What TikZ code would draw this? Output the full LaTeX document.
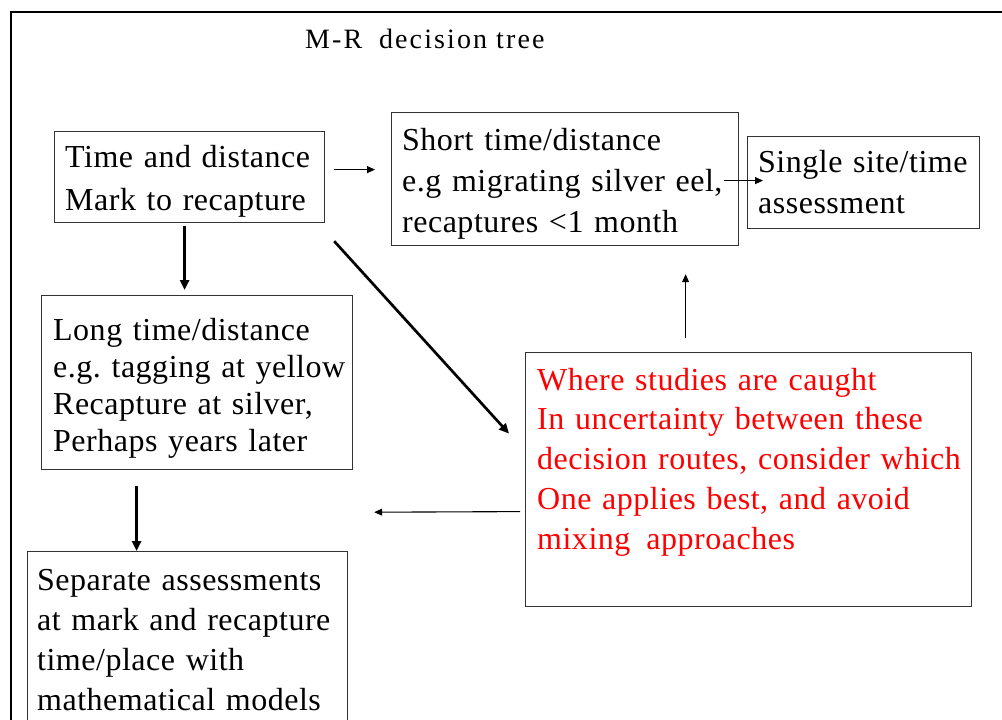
\documentclass[tikz,border=0pt]{standalone}
\usepackage{fontspec}
\setmainfont{Liberation Serif}
\newfontfamily\boxfont[LetterSpace=1.6]{Liberation Serif}
\newfontfamily\titlefont[LetterSpace=7.5]{Liberation Serif}
\usetikzlibrary{arrows.meta,calc}
\definecolor{boxline}{HTML}{333333}
\definecolor{redtext}{HTML}{FF0000}
\begin{document}
\frenchspacing
\begin{tikzpicture}[x=1pt,y=-1pt,
  frameline/.style={draw=black, line width=2.3pt},
  box/.style={draw=boxline, line width=1.2pt, rectangle, anchor=north west, inner sep=0pt},
  txt/.style={anchor=base west, inner sep=0pt, align=left, text width=500pt,
    font=\boxfont\fontsize{32}{#1}\selectfont},
  titletxt/.style={anchor=base west, inner sep=0pt,
    font=\titlefont\fontsize{28}{30}\selectfont},
  thinarr/.style={-{Triangle[length=8pt,width=7pt]}, line width=1.1pt},
  thickarr/.style={-{Triangle[length=10pt,width=9pt]}, line width=2.7pt}]
\clip (0,0) rectangle (1002,720);
\fill[white] (0,0) rectangle (1002,720);
\draw[frameline] (11.2,740) |- (1010,12);

\node[titletxt] (title) at (305,48.3) {M-R\hspace{0.6em}decision tree};

% boxes
\node[box, minimum width=270pt, minimum height=91pt] (b1) at (54,131) {};
\node[box, minimum width=347pt, minimum height=133pt] (b2) at (391,112) {};
\node[box, minimum width=232pt, minimum height=92pt] (b3) at (747,136) {};
\node[box, minimum width=311pt, minimum height=174pt] (b4) at (41,295) {};
\node[box, minimum width=446pt, minimum height=254pt] (b5) at (525,352) {};
\node[box, minimum width=320pt, minimum height=200pt] (b6) at (27,551) {};

% texts
\node[txt=43pt] (t1) at (65,167) {Time and distance\\Mark to recapture};
\node[txt=41pt] (t2) at (402,150) {Short time/distance\\e.g migrating silver eel,\\recaptures {<}1 month};
\node[txt=41.5pt] (t3) at (758,172) {Single site/time\\assessment};
\node[txt=37.3pt] (t4) at (53,340) {Long time/distance\\e.g. tagging at yellow\\Recapture at silver,\\Perhaps years later};
\node[txt=39.8pt, text=redtext] (t5) at (537,390) {Where studies are caught\\In uncertainty between these\\decision routes, consider which\\One applies best, and avoid\\mixing\hspace{0.5em}approaches};
\node[txt=40pt] (t6) at (37,590) {Separate assessments\\at mark and recapture\\time/place with\\mathematical models};

% connectors
\draw[thinarr] ($(b1.east)+(9,-7.5)$) -- ($(b2.west)+(-16,-9.5)$);
\draw[thinarr] ($(b2.east)+(-15,1.5)$) -- ($(b3.west)+(16,-2)$);
\draw[thickarr] ($(b1.south)+(-5,3)$) -- ($(b4.north)+(-12.5,-5)$);
\draw[thickarr] ($(b1.south east)+(9,18)$) -- ($(b5.west)+(-16,-46)$);
\draw[thinarr] ($(b5.north)+(-63,-14)$) -- ($(b2.south)+(120.5,28)$);
\draw[thinarr] ($(b5.west)+(-5,32)$) -- ($(b4.south east)+(21,42)$);
\draw[thickarr] ($(b4.south)+(-60.5,16)$) -- ($(b6.north)+(-51,0)$);
\end{tikzpicture}
\end{document}
